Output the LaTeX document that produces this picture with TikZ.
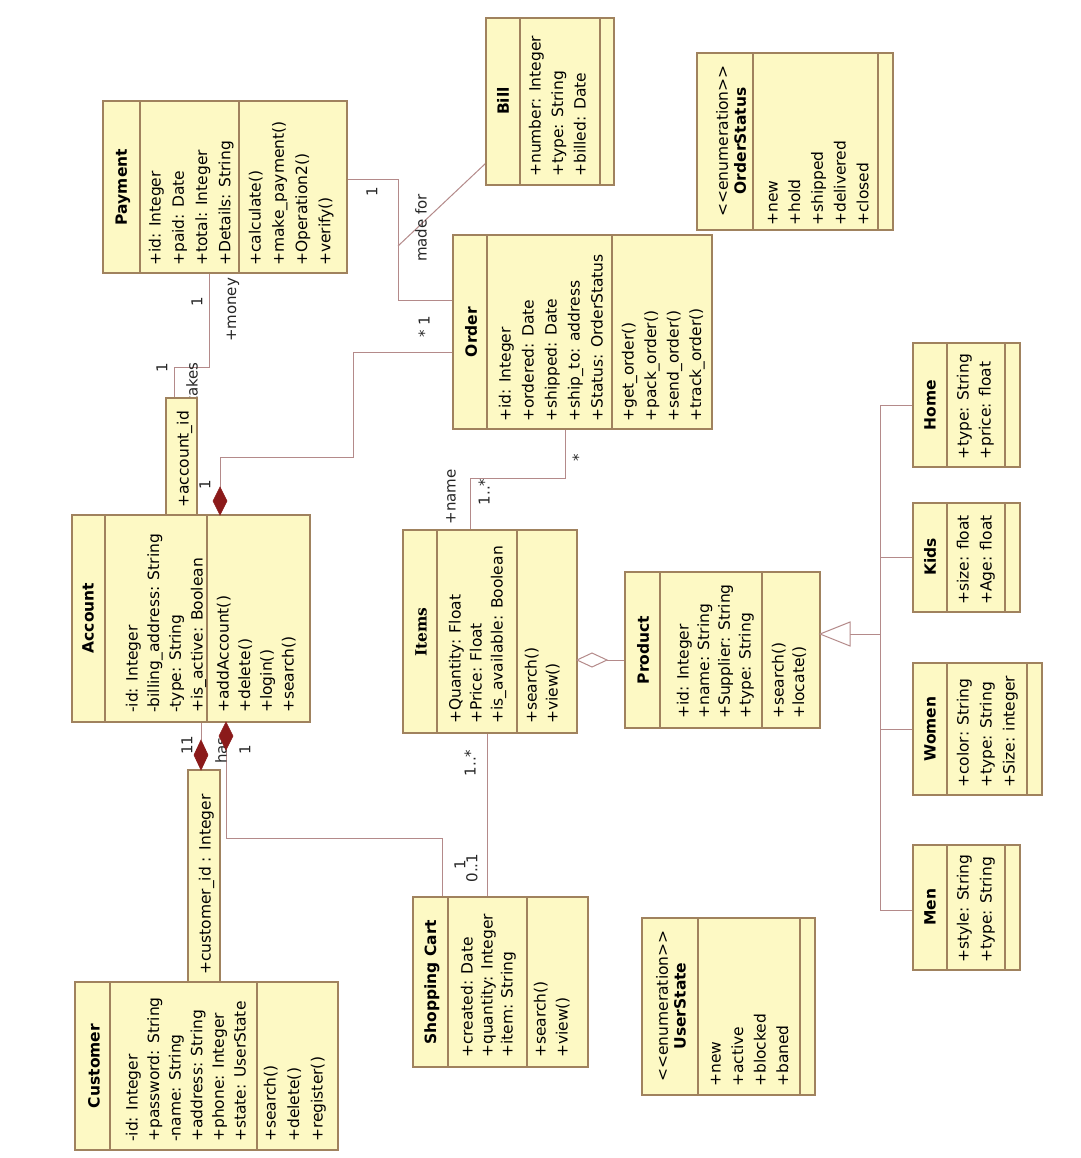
\documentclass[tikz,border=0pt]{standalone}
\usepackage{fontspec}
\setmainfont{DejaVu Sans}
\newfontfamily\itemsfont{DejaVu Serif}
\definecolor{boxfill}{HTML}{FDF9C4}
\definecolor{boxline}{HTML}{A0825E}
\definecolor{conn}{HTML}{B48A8A}
\definecolor{comp}{HTML}{8B1A1A}
\tikzset{
  clsbox/.style={draw=boxline, fill=boxfill, line width=1.2pt, inner sep=0pt, outer sep=0pt},
  clsline/.style={draw=boxline, line width=1.2pt},
  txt/.style={rotate=90, anchor=base west, inner sep=0pt, font=\fontsize{15.5}{19}\selectfont},
  ttl/.style={rotate=90, anchor=center, inner sep=0pt, font=\fontsize{15.5}{19}\selectfont\bfseries},
  stereo/.style={rotate=90, anchor=center, inner sep=0pt, font=\fontsize{15.5}{19}\selectfont},
  assoc/.style={draw=conn, line width=1pt},
  lbl/.style={rotate=90, inner sep=0pt, font=\fontsize{15}{18}\selectfont, text=black!85},
  compd/.style={fill=comp, draw=comp, line width=0.6pt},
  hollow/.style={fill=white, draw=conn, line width=1pt}
}
\newcommand\umlbox[7]{%
  \pgfmathsetmacro\umlW{#4-#2}\pgfmathsetmacro\umlH{#5-#3}%
  \node[clsbox, minimum width=\umlW pt, minimum height=\umlH pt] (#1) at ({(#2+#4)/2},{(#3+#5)/2}) {};%
  \draw[clsline] (#6,#3) -- (#6,#5) (#7,#3) -- (#7,#5);}
\newcommand\umlrows[4]{%
  \foreach \umlr [count=\umli from 0] in {#4} {\node[txt] at ({#1+#2*\umli+5.5},#3) {\umlr};}}
\begin{document}
\begin{tikzpicture}[x=1pt,y=-1pt]
\fill[white] (0,0) rectangle (1080,1158);
\useasboundingbox (0,0) rectangle (1080,1158);

% ---------- connector paths (drawn under boxes) ----------
% Payment - Order ("made for")
\draw[assoc] (347,180) -- (398,180) -- (398,300) -- (453,300);
\draw[assoc] (398,246) -- (486,163);
% Account - Order
\draw[assoc] (220,515) -- (220,457) -- (353,457) -- (353,352) -- (453,352);
% Payment - Account (takes / +money)
\draw[assoc] (209,273) -- (209,367) -- (174,367) -- (174,398);
% Account - Customer
\draw[assoc] (201,722) -- (201,740);
% Account - Shopping Cart (has)
\draw[assoc] (226,750) -- (226,838) -- (442,838) -- (442,897);
% Items - Shopping Cart
\draw[assoc] (487,733) -- (487,897);
% Items - Order
\draw[assoc] (470,530) -- (470,478) -- (565,478) -- (565,429);
% Items - Product
\draw[assoc] (607,660) -- (625,660);
% Generalisation
\draw[assoc] (850,634) -- (880,634);
\draw[assoc] (880,405) -- (880,910);
\draw[assoc] (880,405) -- (913,405);
\draw[assoc] (880,557) -- (913,557);
\draw[assoc] (880,729) -- (913,729);
\draw[assoc] (880,910) -- (913,910);

% ---------- connector labels ----------
\node[lbl] (l1) at (372,192) {1};
\node[lbl] (l2) at (421,228) {made for};
\node[lbl] (l3) at (424,327) {* 1};
\node[lbl] (l4) at (205,485) {1};
\node[lbl] (l5) at (197,302) {1};
\node[lbl] (l6) at (233,310) {+money};
\node[lbl] (l7) at (162,368) {1};
\node[lbl, anchor=east] (l8) at (192,362) {takes};
\node[lbl] (l9) at (187,745) {11};
\node[lbl, anchor=east] (l10) at (221,737) {has};
\node[lbl] (l11) at (245,750) {1};
\node[lbl] (l12) at (460,865) {1};
\node[lbl] (l13) at (472,868) {0..1};
\node[lbl] (l14) at (470,763) {1..*};
\node[lbl] (l15) at (451,497) {+name};
\node[lbl] (l16) at (484,492) {1..*};
\node[lbl] (l17) at (578,458) {*};

% ---------- classes ----------
\umlbox{pay}{103}{101}{347}{273}{140}{239}
\node[ttl] (payT) at (123,187) {Payment};
\umlrows{155}{23.3}{266}{+id: Integer,+paid: Date,+total: Integer,+Details: String}
\umlrows{255}{23.3}{266}{+calculate(),+make\_payment(),+Operation2(),+verify()}

\umlbox{bill}{486}{18}{614}{185}{520}{600}
\node[ttl] (billT) at (503,101) {Bill};
\umlrows{535}{22.5}{177}{+number: Integer,+type: String,+billed: Date}

\umlbox{ostat}{697}{53}{893}{230}{753}{878}
\node[stereo] (ostatS) at (722,141) {<\kern0pt<enumeration>\kern0pt>};
\node[ttl] (ostatT) at (740,141) {OrderStatus};
\umlrows{772}{22.7}{226}{+new,+hold,+shipped,+delivered,+closed}

\umlbox{order}{453}{235}{712}{429}{487}{612}
\node[ttl] (orderT) at (471,332) {Order};
\umlrows{505}{23}{422}{+id: Integer,+ordered: Date,+shipped: Date,+ship\_to: address,+Status: OrderStatus}
\umlrows{628}{22.5}{422}{+get\_order(),+pack\_order(),+send\_order(),+track\_order()}

\umlbox{acc}{72}{515}{310}{722}{105}{207}
\node[ttl] (accT) at (88,618) {Account};
\umlrows{132}{21.7}{713}{-id: Integer,-billing\_address: String,-type: String,+is\_active: Boolean}
\umlrows{223}{21.7}{713}{+addAccount(),+delete(),+login(),+search()}

\umlbox{items}{403}{530}{577}{733}{437}{517}
\node[ttl] (itemsT) at (421,632) {\itemsfont\bfseries Items};
\umlrows{455}{21}{724}{+Quantity: Float,+Price: Float,+is\_available: Boolean}
\umlrows{531}{21}{724}{+search(),+view()}

\umlbox{prod}{625}{572}{820}{728}{660}{762}
\node[ttl] (prodT) at (643,650) {Product};
\umlrows{683}{20.7}{719}{+id: Integer,+name: String,+Supplier: String,+type: String}
\umlrows{778}{20.7}{719}{+search(),+locate()}

\umlbox{cust}{75}{982}{338}{1150}{110}{257}
\node[ttl] (custT) at (94,1066) {Customer};
\umlrows{132}{21.6}{1142}{-id: Integer,+password: String,-name: String,+address: String,+phone: Integer,+state: UserState}
\umlrows{270}{23.5}{1142}{+search(),+delete(),+register()}

\umlbox{cart}{413}{897}{588}{1067}{448}{527}
\node[ttl] (cartT) at (432,982) {Shopping Cart};
\umlrows{467}{20}{1058}{+created: Date,+quantity: Integer,+item: String}
\umlrows{540}{22}{1058}{+search(),+view()}

\umlbox{ustate}{642}{918}{815}{1095}{698}{800}
\node[stereo] (ustateS) at (662,1006) {<\kern0pt<enumeration>\kern0pt>};
\node[ttl] (ustateT) at (680,1006) {UserState};
\umlrows{715}{22.5}{1087}{+new,+active,+blocked,+baned}

\umlbox{home}{913}{343}{1020}{467}{947}{1005}
\node[ttl] (homeT) at (930,405) {Home};
\umlrows{963}{22}{460}{+type: String,+price: float}

\umlbox{kids}{913}{503}{1020}{612}{947}{1005}
\node[ttl] (kidsT) at (930,557) {Kids};
\umlrows{963}{23}{605}{+size: float,+Age: float}

\umlbox{women}{913}{663}{1042}{795}{947}{1027}
\node[ttl] (womenT) at (930,729) {Women};
\umlrows{963}{23}{788}{+color: String,+type: String,+Size: integer}

\umlbox{men}{913}{845}{1020}{970}{947}{1005}
\node[ttl] (menT) at (930,907) {Men};
\umlrows{963}{23}{963}{+style: String,+type: String}

% ---------- qualifier boxes ----------
\node[clsbox, minimum width=31pt, minimum height=117pt] (qacc) at (181.5,456.5) {};
\node[txt] (qaccT) at (188.5,508) {+account\_id};
\node[clsbox, minimum width=32pt, minimum height=212pt] (qcust) at (204,876) {};
\node[txt] (qcustT) at (210.5,975) {+customer\_id : Integer};

% ---------- diamonds and triangle ----------
\filldraw[compd] (220,515) -- (227,501) -- (220,487) -- (213,501) -- cycle;
\filldraw[compd] (201,770) -- (208,755) -- (201,740) -- (194,755) -- cycle;
\filldraw[compd] (226,722) -- (233,736) -- (226,750) -- (219,736) -- cycle;
\filldraw[hollow] (577,660) -- (592,653) -- (607,660) -- (592,667) -- cycle;
\filldraw[hollow] (820,634) -- (850,622) -- (850,646) -- cycle;
\end{tikzpicture}
\end{document}
